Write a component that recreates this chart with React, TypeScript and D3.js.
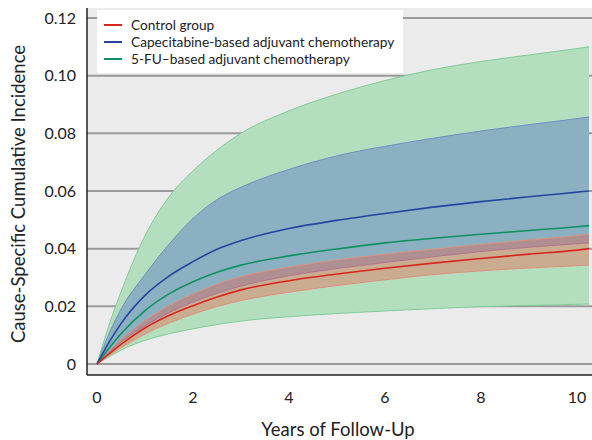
import * as d3 from "d3";

const years = [0, 0.25, 0.5, 1, 1.5, 2, 2.5, 3, 4, 5, 6, 7, 8, 9, 10, 10.25];

const controlMean = [0, 0.0035, 0.0068, 0.0125, 0.0168, 0.0202, 0.0232, 0.0257, 0.0289, 0.0312, 0.0332, 0.035, 0.0366, 0.0381, 0.0395, 0.04];
const controlLower = [0, 0.003, 0.0056, 0.0104, 0.0142, 0.0173, 0.0199, 0.022, 0.0249, 0.0272, 0.0292, 0.031, 0.0323, 0.0333, 0.0341, 0.0343];
const controlUpper = [0, 0.0045, 0.0085, 0.015, 0.0203, 0.0243, 0.0277, 0.0303, 0.0336, 0.0361, 0.0381, 0.0398, 0.0415, 0.043, 0.0445, 0.045];

const capeMean = [0, 0.0075, 0.014, 0.0238, 0.0305, 0.0355, 0.0398, 0.0428, 0.047, 0.0498, 0.0522, 0.0544, 0.0563, 0.058, 0.0596, 0.06];
const capeLower = [0, 0.004, 0.0076, 0.0132, 0.0178, 0.0215, 0.0245, 0.027, 0.0306, 0.0331, 0.0352, 0.0372, 0.039, 0.0405, 0.0417, 0.042];
const capeUpper = [0, 0.0105, 0.019, 0.031, 0.0415, 0.0505, 0.057, 0.0613, 0.0675, 0.0722, 0.0755, 0.0783, 0.0808, 0.083, 0.0851, 0.0857];

const fuMean = [0, 0.0055, 0.0105, 0.0185, 0.0243, 0.0285, 0.0318, 0.0343, 0.0375, 0.0399, 0.042, 0.0436, 0.045, 0.0463, 0.0476, 0.048];
const fuLower = [0, 0.0025, 0.0048, 0.0082, 0.0105, 0.0122, 0.0137, 0.0149, 0.0164, 0.0175, 0.0184, 0.0192, 0.0199, 0.0203, 0.0207, 0.0208];
const fuUpper = [0, 0.0135, 0.025, 0.0445, 0.058, 0.067, 0.0742, 0.08, 0.0878, 0.0936, 0.0983, 0.1021, 0.1049, 0.1072, 0.1094, 0.11];

const xTicks = [0, 2, 4, 6, 8, 10];
const yTicks = [0, 0.02, 0.04, 0.06, 0.08, 0.1, 0.12];

const legendItems = [
  { label: "Control group", color: "#d9261c" },
  { label: "Capecitabine-based adjuvant chemotherapy", color: "#2446a0" },
  { label: "5-FU\u2013based adjuvant chemotherapy", color: "#0f9160" },
];

const W = 592, H = 440;
const plotLeft = 87, plotTop = 8, plotRight = 592, plotBottom = 375;
const font = "Lato, 'Open Sans', sans-serif";

export default function App() {
  const x = d3.scaleLinear().domain([0, 10]).range([97, 577]);
  const y = d3.scaleLinear().domain([0, 0.12]).range([364, 18]);

  const band = (lo: number[], hi: number[]) =>
    d3.area<number>()
      .x((d, i) => x(years[i]))
      .y0((d, i) => y(lo[i]))
      .y1((d, i) => y(hi[i]))
      .curve(d3.curveMonotoneX)(years) || "";

  const line = (vals: number[]) =>
    d3.line<number>()
      .x((d, i) => x(years[i]))
      .y((d, i) => y(vals[i]))
      .curve(d3.curveMonotoneX)(years) || "";

  return (
    <svg width={W} height={H} style={{ position: "absolute", left: 0, top: 0, background: "#fff" }}>
      <rect x={plotLeft} y={plotTop} width={plotRight - plotLeft} height={plotBottom - plotTop} fill="#ebebeb" />
      {yTicks.map(t => (
        <line key={t} x1={plotLeft} x2={plotRight} y1={y(t)} y2={y(t)} stroke="#9a9a9a" strokeWidth={2} />
      ))}

      {/* 5-FU band */}
      <path d={band(fuLower, fuUpper)} fill="#b4dfbf" />
      <path d={line(fuUpper)} fill="none" stroke="#7fcc99" strokeWidth={1} />
      <path d={line(fuLower)} fill="none" stroke="#7fcc99" strokeWidth={1} />

      {/* capecitabine band */}
      <path d={band(capeLower, capeUpper)} fill="rgb(60,90,200)" fillOpacity={0.35} />
      <path d={line(capeUpper)} fill="none" stroke="#6f90c4" strokeWidth={1} />
      <path d={line(capeLower)} fill="none" stroke="#8a86b8" strokeWidth={1} />

      {/* control band */}
      <path d={band(controlLower, controlUpper)} fill="rgb(240,90,70)" fillOpacity={0.38} />
      <path d={line(controlUpper)} fill="none" stroke="#e0907a" strokeWidth={1} />
      <path d={line(controlLower)} fill="none" stroke="#e0907a" strokeWidth={1} />

      <path d={line(fuMean)} fill="none" stroke={legendItems[2].color} strokeWidth={1.6} />
      <path d={line(capeMean)} fill="none" stroke={legendItems[1].color} strokeWidth={1.6} />
      <path d={line(controlMean)} fill="none" stroke={legendItems[0].color} strokeWidth={1.6} />

      {/* axes frame */}
      <line x1={plotLeft} x2={plotLeft} y1={plotTop} y2={plotBottom} stroke="#222" strokeWidth={1.5} />
      <line x1={plotLeft} x2={plotRight} y1={plotBottom} y2={plotBottom} stroke="#222" strokeWidth={1.5} />

      <g fontFamily={font} fill="#222">
        {yTicks.map(t => (
          <text key={t} x={76} y={y(t)} dy="0.35em" textAnchor="end" fontSize={16}>
            {t === 0 ? "0" : d3.format(".2f")(t)}
          </text>
        ))}
        {xTicks.map(t => (
          <text key={t} x={x(t)} y={397} dy="0.35em" textAnchor="middle" fontSize={16}>
            {t}
          </text>
        ))}

        <text x={338} y={430} dy="0.35em" textAnchor="middle" fontSize={18.5}>
          Years of Follow-Up
        </text>
        <text transform="translate(19,194) rotate(-90)" dy="0.35em" textAnchor="middle" fontSize={18.5}>
          Cause-Specific Cumulative Incidence
        </text>

        {/* legend */}
        <rect x={97} y={10} width={306} height={63} fill="#fff" />
        {legendItems.map((d, i) => (
          <g key={d.label} transform={`translate(0,${25 + i * 17})`}>
            <line x1={104} x2={122} y1={0} y2={0} stroke={d.color} strokeWidth={2} />
            <text x={131} y={0} dy="0.35em" fontSize={13.7}>{d.label}</text>
          </g>
        ))}
      </g>
    </svg>
  );
}
